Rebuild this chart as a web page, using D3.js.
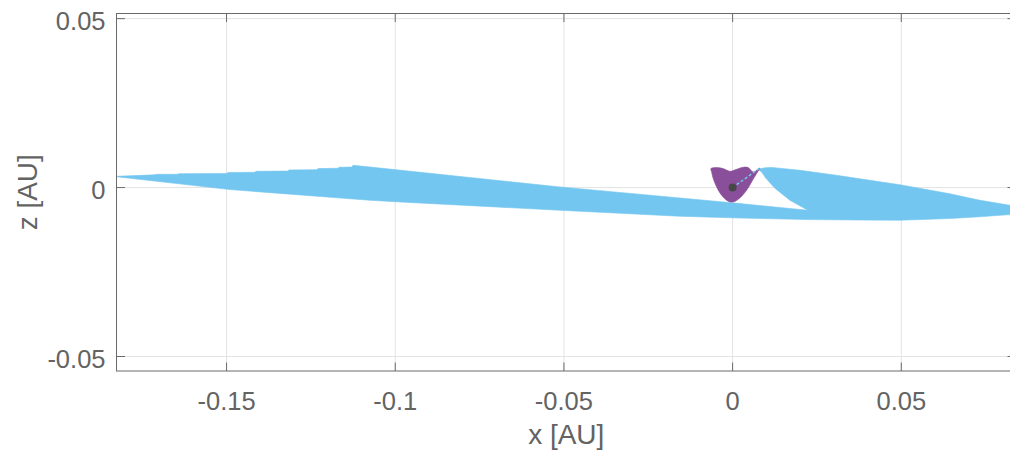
<!DOCTYPE html>
<html>
<head>
<meta charset="utf-8">
<script src="https://cdn.jsdelivr.net/npm/d3@7"></script>
<style>
  html, body { margin: 0; padding: 0; background: #fff; }
  svg { display: block; }
  text { font-family: "Liberation Sans", Arial, sans-serif; fill: #636363; }
</style>
</head>
<body>
<svg id="chart" width="1010" height="459"></svg>
<script>
// Axis ticks
const xTicks = [-0.15, -0.1, -0.05, 0, 0.05];
const xTickLabels = ["-0.15", "-0.1", "-0.05", "0", "0.05"];
const zTicks = [-0.05, 0, 0.05];
const zTickLabels = ["-0.05", "0", "0.05"];

// Envelope of the outer trajectory bundle, [x, z] in AU (closed outline)
const bundleOutline = [
  [-0.18257, 0.00334], [-0.17122, 0.00376], [-0.17093, 0.00393], [-0.16440, 0.00393],
  [-0.16411, 0.00411], [-0.14988, 0.00417], [-0.14959, 0.00444], [-0.14158, 0.00453],
  [-0.14129, 0.00482], [-0.13180, 0.00488], [-0.13151, 0.00521], [-0.12321, 0.00530],
  [-0.12291, 0.00562], [-0.11698, 0.00571], [-0.11669, 0.00601], [-0.11283, 0.00607],
  [-0.11254, 0.00660], [-0.10454, 0.00577], [-0.05119, 0.00018], [-0.01562, -0.00308],
  [0.00216, -0.00473], [0.02232, -0.00672],
  [0.01698, -0.00376], [0.01254, -0.00021], [0.00987, 0.00275], [0.00860, 0.00462],
  [0.00750, 0.00541],
  [0.00957, 0.00586], [0.01165, 0.00595], [0.01995, 0.00512], [0.03180, 0.00349],
  [0.04069, 0.00216], [0.04958, 0.00083], [0.06440, -0.00183], [0.07330, -0.00376],
  [0.08219, -0.00524], [0.08960, -0.00672],
  [0.08219, -0.00799], [0.07330, -0.00864], [0.06440, -0.00917], [0.04958, -0.00967],
  [0.03773, -0.00962], [0.02232, -0.00947], [0.00216, -0.00902], [-0.01562, -0.00849],
  [-0.05119, -0.00672], [-0.09861, -0.00426], [-0.10750, -0.00376], [-0.14899, -0.00059],
  [-0.18257, 0.00320]
];

// Envelope of the inner trajectory bundle near the origin, [x, z] in AU
const innerOutline = [
  [-0.00643, 0.00562], [-0.00474, 0.00592], [-0.00279, 0.00562], [-0.00080, 0.00482],
  [0.00119, 0.00541], [0.00314, 0.00601], [0.00462, 0.00592], [0.00611, 0.00462],
  [0.00809, 0.00580], [0.00711, 0.00414], [0.00563, 0.00166], [0.00415, -0.00080],
  [0.00216, -0.00308], [0.00018, -0.00426], [-0.00130, -0.00405], [-0.00326, -0.00228],
  [-0.00474, 0.00018], [-0.00575, 0.00266], [-0.00622, 0.00462]
];

// Transfer segment from the central body out to the bundle
const transferPath = [[0, 0], [0.00809, 0.00580]];

// Central body
const centralBody = [[0, 0]];

const svg = d3.select("#chart");
const W = 1010, H = 459;
const plot = { left: 116.5, right: 1016, top: 13.5, bottom: 371 };

const x = d3.scaleLinear().domain([-0.18262, 0.08400]).range([plot.left, plot.right]);
const z = d3.scaleLinear().domain([-0.05429, 0.05152]).range([plot.bottom, plot.top]);

svg.append("rect").attr("width", W).attr("height", H).attr("fill", "#fff");

svg.append("defs").append("clipPath").attr("id", "plotClip")
  .append("rect")
  .attr("x", plot.left).attr("y", plot.top)
  .attr("width", plot.right - plot.left).attr("height", plot.bottom - plot.top);

// Grid
const grid = svg.append("g").attr("stroke", "#e3e3e3").attr("stroke-width", 1);
grid.selectAll("line.gx").data(xTicks).join("line")
  .attr("x1", d => x(d)).attr("x2", d => x(d))
  .attr("y1", plot.top).attr("y2", plot.bottom);
grid.selectAll("line.gz").data(zTicks).join("line")
  .attr("x1", plot.left).attr("x2", plot.right)
  .attr("y1", d => z(d)).attr("y2", d => z(d));

// Data
const layer = svg.append("g").attr("clip-path", "url(#plotClip)");
const outline = d3.line().x(d => x(d[0])).y(d => z(d[1])).curve(d3.curveLinearClosed);

layer.append("path").datum(bundleOutline)
  .attr("d", outline).attr("fill", "#73c6f0").attr("stroke", "#73c6f0").attr("stroke-width", 0.6);

layer.append("path").datum(innerOutline)
  .attr("d", d3.line().x(d => x(d[0])).y(d => z(d[1])).curve(d3.curveCatmullRomClosed.alpha(0.5)))
  .attr("fill", "#8a4f9b").attr("stroke", "#8a4f9b").attr("stroke-width", 0.6);

layer.append("path").datum(transferPath)
  .attr("d", d3.line().x(d => x(d[0])).y(d => z(d[1])))
  .attr("fill", "none").attr("stroke", "#73c6f0").attr("stroke-width", 1.5)
  .attr("stroke-dasharray", "3,2");

layer.selectAll("circle.body").data(centralBody).join("circle")
  .attr("cx", d => x(d[0])).attr("cy", d => z(d[1])).attr("r", 4)
  .attr("fill", "#474747");

// Axes box and ticks
const axisColor = "#6a6a6a";
const tickLen = 8.5;
const axes = svg.append("g").attr("stroke", axisColor).attr("stroke-width", 1).attr("fill", "none");
axes.append("rect")
  .attr("x", plot.left).attr("y", plot.top)
  .attr("width", plot.right - plot.left).attr("height", plot.bottom - plot.top);
xTicks.forEach(t => {
  axes.append("line").attr("x1", x(t)).attr("x2", x(t)).attr("y1", plot.bottom).attr("y2", plot.bottom - tickLen);
  axes.append("line").attr("x1", x(t)).attr("x2", x(t)).attr("y1", plot.top).attr("y2", plot.top + tickLen);
});
zTicks.forEach(t => {
  axes.append("line").attr("x1", plot.left).attr("x2", plot.left + tickLen).attr("y1", z(t)).attr("y2", z(t));
  axes.append("line").attr("x1", plot.right).attr("x2", plot.right - tickLen).attr("y1", z(t)).attr("y2", z(t));
});

// Tick labels
svg.append("g").selectAll("text").data(xTicks).join("text")
  .attr("x", d => x(d)).attr("y", 409.5)
  .attr("text-anchor", "middle").attr("font-size", 25.5)
  .text((d, i) => xTickLabels[i]);
svg.append("g").selectAll("text").data(zTicks).join("text")
  .attr("x", 105.5).attr("y", d => z(d) + 11)
  .attr("text-anchor", "end").attr("font-size", 25.5)
  .text((d, i) => zTickLabels[i]);

// Axis titles
svg.append("text")
  .attr("x", (plot.left + plot.right) / 2).attr("y", 444)
  .attr("text-anchor", "middle").attr("font-size", 28)
  .text("x [AU]");
svg.append("text")
  .attr("transform", `translate(37,${(plot.top + plot.bottom) / 2}) rotate(-90)`)
  .attr("text-anchor", "middle").attr("font-size", 28)
  .text("z [AU]");
</script>
</body>
</html>
